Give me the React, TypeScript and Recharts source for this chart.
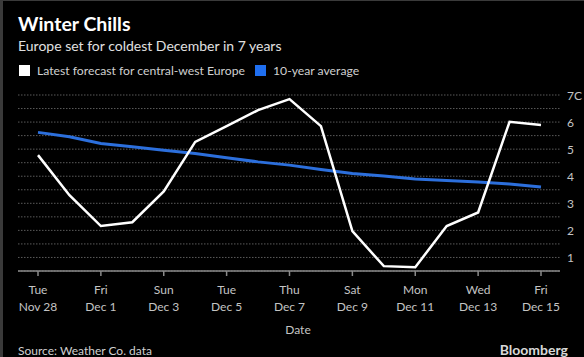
import React from "react";
import { LineChart, Line, XAxis, YAxis, CartesianGrid } from "recharts";

const dayLabels = ["Tue", "", "Fri", "", "Sun", "", "Tue", "", "Thu", "", "Sat", "", "Mon", "", "Wed", "", "Fri"];
const dateLabels = ["Nov 28", "", "Dec 1", "", "Dec 3", "", "Dec 5", "", "Dec 7", "", "Dec 9", "", "Dec 11", "", "Dec 13", "", "Dec 15"];
const forecast = [4.78, 3.3, 2.16, 2.3, 3.44, 5.27, 5.85, 6.44, 6.85, 5.85, 1.97, 0.68, 0.64, 2.16, 2.66, 6.01, 5.89];
const average = [5.62, 5.46, 5.21, 5.09, 4.96, 4.84, 4.68, 4.53, 4.41, 4.25, 4.1, 4.01, 3.9, 3.84, 3.79, 3.71, 3.6];
const yGridTicks = [1, 1.5, 2, 2.5, 3, 3.5, 4, 4.5, 5, 5.5, 6, 6.5, 7];

const data = forecast.map((f, i) => ({
  idx: i,
  day: dayLabels[i],
  date: dateLabels[i],
  forecast: f,
  average: average[i],
}));

const FONT = "Lato, 'Liberation Sans', sans-serif";
const TICK_COLOR = "#c4c4c4";

const XTick = (props: any) => {
  const { x, payload } = props;
  const i = payload.index ?? payload.value;
  const d = data[i] || data.find((r) => r.idx === payload.value);
  if (!d) return null;
  return (
    <g>
      <text x={x} y={294} textAnchor="middle" fill={TICK_COLOR} fontSize={12} fontFamily={FONT}>
        {d.day}
      </text>
      <text x={x} y={311} textAnchor="middle" fill={TICK_COLOR} fontSize={12} fontFamily={FONT}>
        {d.date}
      </text>
    </g>
  );
};

const YTick = (props: any) => {
  const { x, y, payload } = props;
  const v = payload.value;
  if (!Number.isInteger(v)) return null;
  return (
    <text x={x} y={y + 4.5} textAnchor="start" fill={TICK_COLOR} fontSize={12} fontFamily={FONT}>
      {v === 7 ? "7C" : String(v)}
    </text>
  );
};

export default function App() {
  return (
    <div style={{ position: "fixed", left: 0, top: 0, width: 584, height: 357, background: "#000", overflow: "hidden" }}>
      <div style={{ position: "absolute", left: 0, top: 0, width: 3, height: 357, background: "#3a3a3a" }} />
      <div style={{ position: "absolute", left: 0, top: 0, width: 584, height: 1, background: "#3a3a3a" }} />
      <LineChart
        width={584}
        height={357}
        data={data}
        margin={{ top: 95, right: 0, bottom: 46, left: 18 }}
      >
        <CartesianGrid
          vertical={false}
          stroke="#5a5a5a"
          strokeDasharray="1.5 1.5"
        />
        <XAxis
          dataKey="idx"
          type="category"
          interval={1}
          padding={{ left: 20, right: 19 }}
          height={40}
          axisLine={{ stroke: "#8a8a8a", strokeWidth: 1.5 }}
          tickLine={{ stroke: "#8a8a8a", strokeWidth: 1.5 }}
          tickSize={5}
          tick={<XTick />}
        />
        <YAxis
          orientation="right"
          width={24}
          domain={[0.5, 7]}
          ticks={yGridTicks}
          axisLine={false}
          tickLine={false}
          tickSize={0}
          tickMargin={7}
          tick={<YTick />}
          interval={0}
        />
        <Line
          dataKey="average"
          stroke="#2c6fdc"
          strokeWidth={3}
          dot={false}
          isAnimationActive={false}
        />
        <Line
          dataKey="forecast"
          stroke="#ffffff"
          strokeWidth={2.5}
          dot={false}
          isAnimationActive={false}
        />
      </LineChart>
      <svg
        width={584}
        height={357}
        style={{ position: "absolute", left: 0, top: 0, pointerEvents: "none" }}
      >
        <text x={18} y={31} fill="#ffffff" fontSize={19.5} fontWeight="bold" fontFamily={FONT}>
          Winter Chills
        </text>
        <text x={18} y={51} fill="#e0e0e0" fontSize={14} fontFamily={FONT}>
          Europe set for coldest December in 7 years
        </text>
        <rect x={19} y={65} width={11} height={11} fill="#ffffff" />
        <text x={37} y={75} fill="#d0d0d0" fontSize={12.2} fontFamily={FONT}>
          Latest forecast for central-west Europe
        </text>
        <rect x={255} y={65} width={11} height={11} fill="#1f6ff0" />
        <text x={273} y={75} fill="#d0d0d0" fontSize={12.2} fontFamily={FONT}>
          10-year average
        </text>
        <text x={298} y={333.5} textAnchor="middle" fill={TICK_COLOR} fontSize={12} fontFamily={FONT}>
          Date
        </text>
        <text x={18} y={355} fill="#d0d0d0" fontSize={12} fontFamily={FONT}>
          Source: Weather Co. data
        </text>
        <text x={568} y={355} textAnchor="end" fill="#d8d8d8" fontSize={14} fontWeight="bold" fontFamily={FONT}>
          Bloomberg
        </text>
      </svg>
    </div>
  );
}
